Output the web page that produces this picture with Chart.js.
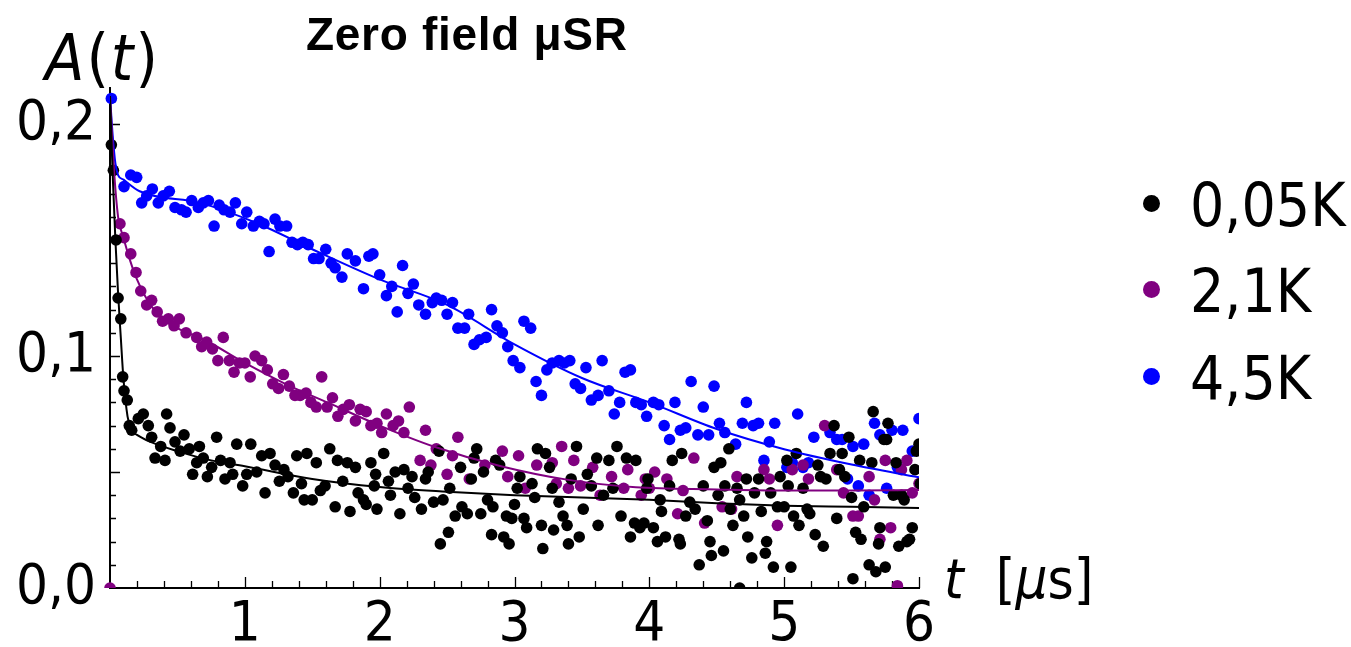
<!DOCTYPE html>
<html>
<head>
<meta charset="utf-8">
<script src="https://cdn.jsdelivr.net/npm/chart.js@4.4.1/dist/chart.umd.min.js"></script>
<style>
  body { margin: 0; background: #fff; }
  #wrap { position: relative; width: 1351px; height: 647px; }
  canvas { position: absolute; left: 0; top: 0; }
  .lbl { position: absolute; color: #000; white-space: nowrap; line-height: 1;
         font-family: "DejaVu Sans Condensed", "Liberation Sans Narrow", "DejaVu Sans", sans-serif; }
  #title { left: 306px; top: 7px; font: bold 46px "Liberation Sans", Arial, sans-serif; letter-spacing: 0.7px; }
  #ylab { left: 45px; top: 26px; font-size: 64px; letter-spacing: 2px; }
  #xlab { left: 944px; top: 551px; font-size: 56px; }
  .leg { position: absolute; left: 1143px; font-size: 60px; }
  .dot { display: inline-block; width: 17px; height: 17px; border-radius: 50%; margin-right: 30px; vertical-align: middle; position: relative; top: -6px; }
</style>
</head>
<body>
<div id="wrap">
  <canvas id="c" width="1351" height="647"></canvas>
  <div class="lbl" id="title">Zero field μSR</div>
  <div class="lbl" id="ylab"><i>A</i>(<i>t</i>)</div>
  <div class="lbl" id="xlab"><i>t</i>&nbsp;&nbsp;[<i>μ</i>s]</div>
  <div class="lbl leg" style="top:175px"><span class="dot" style="background:#000"></span>0,05K</div>
  <div class="lbl leg" style="top:261px"><span class="dot" style="background:#800080"></span>2,1K</div>
  <div class="lbl leg" style="top:348px"><span class="dot" style="background:#0000ff"></span>4,5K</div>
</div>
<script>
// data: [t in µs, A(t)]
const labels = ["0,05K", "2,1K", "4,5K"];
const colors = ["#000000", "#800080", "#0000ff"];

const black = [
  [0.01,0.191],[0.025,0.180],[0.045,0.150],[0.06,0.125],[0.08,0.116],[0.094,0.091],[0.104,0.085],
  [0.128,0.081],[0.143,0.070],[0.161,0.068],[0.21,0.073],[0.247,0.075],[0.284,0.070],[0.309,0.065],
  [0.334,0.056],[0.376,0.061],[0.408,0.055],[0.42,0.075],[0.445,0.069],[0.482,0.063],[0.52,0.059],
  [0.549,0.066],[0.588,0.060],[0.613,0.049],[0.643,0.054],[0.663,0.061],[0.692,0.056],[0.722,0.048],
  [0.754,0.052],[0.791,0.065],[0.82,0.055],[0.853,0.047],[0.89,0.054],[0.91,0.049],[0.94,0.062],
  [0.984,0.044],[1.014,0.049],[1.044,0.062],[1.088,0.050],[1.125,0.057],[1.15,0.041],[1.187,0.058],
  [1.224,0.053],[1.256,0.046],[1.29,0.051],[1.32,0.048],[1.36,0.041],[1.385,0.057],[1.42,0.045],
  [1.44,0.038],[1.46,0.058],[1.50,0.038],[1.53,0.054],[1.56,0.042],[1.595,0.044],[1.63,0.060],
  [1.67,0.035],[1.687,0.055],[1.726,0.046],[1.76,0.054],[1.78,0.033],[1.82,0.052],[1.84,0.041],
  [1.88,0.038],[1.90,0.036],[1.935,0.054],[1.97,0.049],[1.98,0.034],[1.96,0.044],[2.03,0.058],
  [2.065,0.046],[2.08,0.040],[2.115,0.050],[2.15,0.032],[2.18,0.051],[2.21,0.043],[2.24,0.048],
  [2.26,0.039],[2.31,0.034],[2.34,0.047],[2.36,0.050],[2.40,0.037],[2.44,0.059],[2.45,0.019],
  [2.47,0.038],[2.51,0.024],[2.52,0.043],[2.56,0.031],[2.60,0.052],[2.61,0.035],[2.65,0.032],
  [2.68,0.047],[2.70,0.056],[2.72,0.060],[2.75,0.032],[2.77,0.050],[2.80,0.038],[2.83,0.023],
  [2.84,0.035],[2.86,0.055],[2.89,0.053],[2.92,0.022],[2.94,0.031],[2.96,0.019],[2.98,0.030],
  [3.00,0.036],[3.02,0.043],[3.04,0.048],[3.07,0.030],[3.09,0.026],[3.13,0.045],[3.15,0.039],
  [3.17,0.060],[3.20,0.027],[3.21,0.017],[3.23,0.058],[3.26,0.052],[3.28,0.043],[3.29,0.025],
  [3.33,0.037],[3.36,0.031],[3.39,0.027],[3.40,0.019],[3.42,0.047],[3.46,0.061],[3.48,0.022],
  [3.51,0.034],[3.54,0.049],[3.57,0.044],[3.61,0.056],[3.62,0.027],[3.66,0.040],[3.70,0.055],
  [3.73,0.043],[3.76,0.061],[3.79,0.031],[3.83,0.056],[3.86,0.022],[3.89,0.028],[3.90,0.055],
  [3.93,0.026],[3.96,0.028],[3.98,0.043],[3.99,0.047],[4.03,0.026],[4.06,0.020],[4.08,0.038],
  [4.09,0.033],[4.12,0.022],[4.15,0.044],[4.17,0.055],[4.22,0.021],[4.23,0.019],[4.24,0.058],
  [4.27,0.031],[4.30,0.037],[4.34,0.034],[4.37,0.010],[4.40,0.044],[4.43,0.029],[4.45,0.020],
  [4.46,0.014],[4.48,0.052],[4.51,0.040],[4.53,0.054],[4.55,0.016],[4.56,0.044],[4.59,0.060],
  [4.60,0.034],[4.62,0.027],[4.65,0.043],[4.67,0.038],[4.67,0.000],[4.70,0.031],[4.72,0.047],
  [4.73,0.022],[4.76,0.013],[4.78,0.041],[4.81,0.047],[4.83,0.033],[4.86,0.015],[4.87,0.020],
  [4.90,0.041],[4.92,0.009],[4.95,0.035],[4.97,0.048],[5.00,0.035],[5.02,0.055],[5.03,0.044],
  [5.05,0.009],[5.07,0.031],[5.09,0.058],[5.11,0.027],[5.14,0.043],[5.17,0.034],[5.19,0.032],
  [5.23,0.023],[5.25,0.053],[5.27,0.048],[5.29,0.018],[5.31,0.047],[5.34,0.058],[5.37,0.070],
  [5.39,0.030],[5.41,0.051],[5.43,0.058],[5.45,0.048],[5.48,0.065],[5.50,0.039],[5.51,0.004],
  [5.53,0.024],[5.56,0.055],[5.57,0.021],[5.59,0.035],[5.63,0.010],[5.65,0.054],[5.66,0.076],
  [5.68,0.007],[5.70,0.019],[5.71,0.026],[5.74,0.064],[5.75,0.009],[5.76,0.064],[5.77,0.071],
  [5.81,0.040],[5.83,0.054],[5.85,0.018],[5.87,0.040],[5.89,0.038],[5.91,0.020],[5.93,0.021],
  [5.95,0.026],[5.97,0.051],[5.98,0.059],[6.00,0.062],[6.01,0.045]
];

const purple = [
  [0,0],[0.074,0.157],[0.104,0.151],[0.154,0.144],[0.193,0.136],[0.228,0.128],[0.272,0.122],
  [0.309,0.124],[0.35,0.119],[0.39,0.115],[0.433,0.116],[0.475,0.113],[0.514,0.116],[0.564,0.110],
  [0.643,0.108],[0.68,0.104],[0.717,0.106],[0.76,0.103],[0.80,0.098],[0.84,0.108],[0.885,0.098],
  [0.92,0.093],[0.96,0.097],[1.0,0.097],[1.04,0.091],[1.076,0.100],[1.125,0.098],[1.167,0.094],
  [1.207,0.088],[1.25,0.086],[1.286,0.092],[1.33,0.087],[1.372,0.083],[1.41,0.083],[1.454,0.084],
  [1.49,0.080],[1.53,0.078],[1.57,0.091],[1.61,0.078],[1.65,0.082],[1.69,0.074],[1.73,0.077],
  [1.775,0.079],[1.82,0.072],[1.855,0.077],[1.9,0.076],[1.935,0.070],[1.98,0.071],[2.015,0.067],
  [2.05,0.075],[2.10,0.070],[2.14,0.072],[2.18,0.067],[2.22,0.078],[2.30,0.055],[2.34,0.068],
  [2.38,0.053],[2.42,0.060],[2.50,0.049],[2.54,0.057],[2.58,0.065],[2.665,0.047],[2.78,0.053],
  [2.91,0.059],[2.95,0.048],[3.03,0.057],[3.08,0.043],[3.165,0.053],[3.28,0.054],[3.31,0.045],
  [3.35,0.061],[3.40,0.043],[3.44,0.055],[3.49,0.044],[3.58,0.052],[3.635,0.040],[3.72,0.048],
  [3.81,0.043],[3.84,0.051],[3.94,0.040],[3.97,0.047],[4.0,0.043],[4.04,0.050],[4.13,0.047],
  [4.21,0.032],[4.25,0.042],[4.33,0.056],[4.41,0.028],[4.54,0.035],[4.61,0.034],[4.65,0.048],
  [4.85,0.051],[4.89,0.047],[4.95,0.027],[5.06,0.051],[5.14,0.053],[5.18,0.047],[5.30,0.070],
  [5.39,0.051],[5.44,0.041],[5.51,0.031],[5.55,0.031],[5.63,0.048],[5.67,0.038],[5.71,0.021],
  [5.75,0.055],[5.79,0.026],[5.84,0.001],[5.87,0.051],[5.91,0.055],[5.95,0.041],[6.0,0.045]
];

const blue = [
  [0.01,0.211],[0.104,0.173],[0.154,0.178],[0.198,0.177],[0.235,0.166],[0.272,0.169],[0.314,0.172],
  [0.358,0.166],[0.395,0.169],[0.44,0.171],[0.482,0.164],[0.53,0.163],[0.564,0.162],[0.606,0.167],
  [0.655,0.164],[0.692,0.166],[0.73,0.167],[0.772,0.156],[0.81,0.165],[0.846,0.163],[0.89,0.162],
  [0.93,0.166],[0.977,0.157],[1.014,0.162],[1.063,0.156],[1.108,0.158],[1.142,0.157],[1.18,0.145],
  [1.224,0.159],[1.26,0.156],[1.31,0.156],[1.35,0.149],[1.39,0.148],[1.43,0.149],[1.47,0.148],
  [1.51,0.142],[1.55,0.142],[1.60,0.146],[1.64,0.140],[1.67,0.138],[1.72,0.134],[1.76,0.144],
  [1.82,0.141],[1.88,0.129],[1.92,0.143],[1.95,0.144],[2.0,0.135],[2.05,0.126],[2.09,0.130],
  [2.13,0.119],[2.17,0.139],[2.21,0.127],[2.25,0.131],[2.29,0.122],[2.34,0.118],[2.39,0.123],
  [2.42,0.125],[2.46,0.124],[2.50,0.118],[2.54,0.123],[2.58,0.112],[2.63,0.112],[2.66,0.118],
  [2.70,0.105],[2.74,0.107],[2.79,0.108],[2.83,0.120],[2.87,0.113],[2.91,0.110],[2.95,0.104],
  [2.99,0.098],[3.04,0.095],[3.07,0.115],[3.12,0.112],[3.16,0.089],[3.20,0.083],[3.24,0.094],
  [3.28,0.097],[3.33,0.098],[3.37,0.097],[3.41,0.098],[3.45,0.088],[3.49,0.086],[3.53,0.095],
  [3.57,0.081],[3.62,0.083],[3.65,0.098],[3.70,0.085],[3.74,0.075],[3.78,0.080],[3.82,0.093],
  [3.86,0.094],[3.90,0.080],[3.94,0.079],[3.98,0.074],[4.03,0.080],[4.07,0.079],[4.11,0.070],
  [4.15,0.064],[4.19,0.080],[4.23,0.068],[4.27,0.069],[4.31,0.089],[4.36,0.066],[4.40,0.078],
  [4.44,0.066],[4.48,0.087],[4.52,0.071],[4.56,0.067],[4.64,0.062],[4.69,0.071],[4.72,0.080],
  [4.77,0.070],[4.81,0.071],[4.85,0.055],[4.89,0.063],[4.93,0.071],[5.02,0.052],[5.06,0.054],
  [5.10,0.075],[5.14,0.052],[5.18,0.054],[5.22,0.065],[5.34,0.067],[5.39,0.064],[5.43,0.064],
  [5.47,0.047],[5.51,0.061],[5.55,0.044],[5.59,0.062],[5.63,0.040],[5.67,0.071],[5.71,0.066],
  [5.76,0.043],[5.80,0.068],[5.84,0.052],[5.88,0.068],[5.95,0.059],[6.0,0.073]
];

// fitted curves
const blackFitT = [0, 0.02, 0.04, 0.06, 0.08, 0.1, 0.13, 0.16, 0.2, 0.3, 0.5, 0.75, 1, 1.5, 2, 2.5, 3, 3.5, 4, 4.5, 5, 5.5, 6];
const blackFitA = [0.212, 0.178, 0.150, 0.127, 0.108, 0.090, 0.074, 0.068, 0.066, 0.063, 0.059, 0.055, 0.0525, 0.047, 0.0435, 0.0415, 0.040, 0.039, 0.038, 0.0365, 0.0355, 0.035, 0.0345];
const purpleFitT = [0, 0.03, 0.06, 0.1, 0.15, 0.2, 0.3, 0.4, 0.5, 0.7, 1, 1.3, 1.65, 2, 2.4, 2.9, 3.4, 3.9, 4.5, 5, 5.5, 6];
const purpleFitA = [0.212, 0.180, 0.160, 0.151, 0.141, 0.133, 0.122, 0.116, 0.112, 0.107, 0.097, 0.088, 0.079, 0.070, 0.061, 0.0525, 0.0466, 0.0434, 0.0425, 0.042, 0.042, 0.0422];
const blueFitT = [0, 0.02, 0.04, 0.06, 0.1, 0.22, 0.67, 1.1, 1.5, 2, 2.5, 3, 3.5, 4, 4.5, 5, 5.5, 6];
const blueFitA = [0.212, 0.195, 0.183, 0.178, 0.176, 0.171, 0.166, 0.157, 0.146, 0.133, 0.122, 0.105, 0.0905, 0.080, 0.0685, 0.0598, 0.0532, 0.0477];

const xTicks = [1, 2, 3, 4, 5, 6];
const yTicks = [0, 0.1, 0.2];

const fontFam = '"DejaVu Sans Condensed", "Liberation Sans Narrow", "DejaVu Sans", sans-serif';

function pts(arr) { return arr.map(p => ({ x: p[0], y: p[1] })); }
function fit(ts, as) { return ts.map((t, i) => ({ x: t, y: as[i] })); }

function lineSet(data, color) {
  return {
    type: "line", data: data, borderColor: color, borderWidth: 2,
    pointRadius: 0, cubicInterpolationMode: "monotone", fill: false
  };
}
function dotSet(data, color, label) {
  return {
    label: label, data: data, backgroundColor: color, borderWidth: 0,
    pointRadius: 5.8, pointHoverRadius: 5.8,
    clip: { left: false, top: false, right: 0, bottom: 0 }
  };
}

// inward tick marks like the original
const innerTicks = {
  id: "innerTicks",
  beforeDatasetsDraw(chart) {
    const { ctx, chartArea, scales: { x, y } } = chart;
    ctx.save();
    ctx.strokeStyle = "#000";
    ctx.lineWidth = 1.3;
    ctx.beginPath();
    for (let i = 1; i <= 30; i++) {
      const px = Math.round(x.getPixelForValue(i / 5)) + 0.5;
      const len = i % 5 === 0 ? 11 : 7;
      ctx.moveTo(px, chartArea.bottom);
      ctx.lineTo(px, chartArea.bottom - len);
    }
    for (let i = 1; i <= 21; i++) {
      const py = Math.round(y.getPixelForValue(i / 100)) + 0.5;
      const len = i % 5 === 0 ? 10 : 6;
      ctx.moveTo(chartArea.left, py);
      ctx.lineTo(chartArea.left + len, py);
    }
    ctx.stroke();
    ctx.restore();
  }
};

new Chart(document.getElementById("c"), {
  type: "scatter",
  data: {
    datasets: [
      lineSet(fit(blackFitT, blackFitA), colors[0]),
      lineSet(fit(purpleFitT, purpleFitA), colors[1]),
      lineSet(fit(blueFitT, blueFitA), colors[2]),
      dotSet(pts(black), colors[0], labels[0]),
      dotSet(pts(purple), colors[1], labels[1]),
      dotSet(pts(blue), colors[2], labels[2])
    ]
  },
  options: {
    responsive: false,
    animation: false,
    events: [],
    layout: { padding: { left: 0, top: 88, right: 432, bottom: 0 } },
    plugins: { legend: { display: false }, tooltip: { enabled: false } },
    scales: {
      x: {
        type: "linear", min: 0, max: 6,
        afterFit(s) { s.height = 59; },
        grid: { display: false, drawTicks: false },
        border: { display: true, color: "#000", width: 2 },
        afterBuildTicks(s) { s.ticks = xTicks.map(v => ({ value: v })); },
        ticks: { color: "#000", padding: 4, maxRotation: 0, autoSkip: false,
                 font: { family: fontFam, size: 56 }, callback: v => String(v) }
      },
      y: {
        type: "linear", min: 0, max: 0.2155,
        afterFit(s) { s.width = 110; },
        grid: { display: false, drawTicks: false },
        border: { display: true, color: "#000", width: 2 },
        afterBuildTicks(s) { s.ticks = yTicks.map(v => ({ value: v })); },
        ticks: { color: "#000", padding: 14, autoSkip: false,
                 font: { family: fontFam, size: 56 },
                 callback: v => v.toFixed(1).replace(".", ",") }
      }
    }
  },
  plugins: [innerTicks]
});
</script>
</body>
</html>
